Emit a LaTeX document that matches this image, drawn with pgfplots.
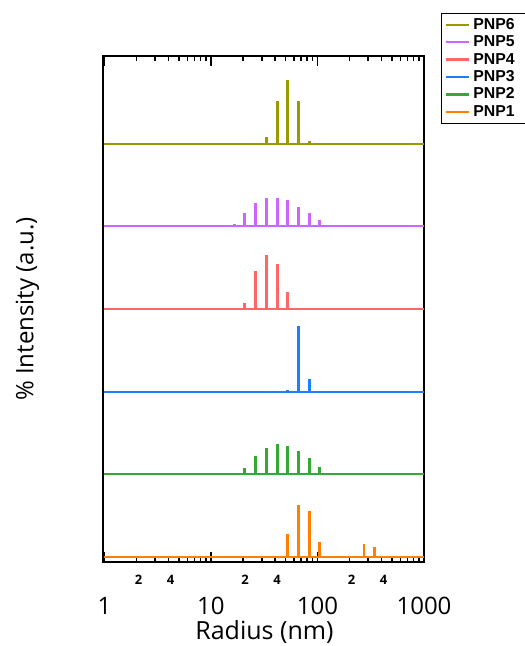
\documentclass[border=0pt]{standalone}
\usepackage{pgfplots}
\usepackage{pgfplotstable}
\pgfplotsset{compat=1.18}
\usepackage{fontspec}
\setmainfont{Open Sans}
\newfontfamily\legfont{Liberation Sans}

\definecolor{c6}{RGB}{153,153,0}
\definecolor{c5}{RGB}{204,102,255}
\definecolor{c4}{RGB}{255,102,102}
\definecolor{c3}{RGB}{26,128,255}
\definecolor{c2}{RGB}{51,170,51}
\definecolor{c1}{RGB}{255,128,0}

\pgfplotstableread{
x h
1 0
33.2 0.33
41.8 2.08
52.7 3.08
66.4 2.08
83.6 0.15
1000 0
}\pnpsix
\pgfplotstableread{
x h
1 0
16.5 0.13
20.8 0.65
26.2 1.15
33.2 1.40
41.8 1.40
52.7 1.27
66.4 0.95
83.6 0.63
105.2 0.31
134.3 0.05
1000 0
}\pnpfive
\pgfplotstableread{
x h
1 0
20.8 0.29
26.2 1.82
33.2 2.60
41.8 2.16
52.7 0.85
1000 0
}\pnpfour
\pgfplotstableread{
x h
1 0
52.7 0.10
66.4 3.19
83.6 0.61
1000 0
}\pnpthree
\pgfplotstableread{
x h
1 0
20.8 0.31
26.2 0.87
33.2 1.26
41.8 1.47
52.7 1.39
66.4 1.15
83.6 0.81
105.2 0.35
134.3 0.05
1000 0
}\pnptwo
\pgfplotstableread{
x h
1 0
52.7 1.13
66.4 2.50
83.6 2.23
105.2 0.74
273.5 0.63
344.4 0.48
1000 0
}\pnpone

\pgfplotsset{
  needle/.style={line width=1pt, forget plot,
    error bars/.cd, y dir=plus, y explicit, error mark=none,
    error bar style={line width=1.4pt, #1}},
}

\begin{document}
\begin{tikzpicture}
\path[use as bounding box] (0,0) rectangle (262pt,323pt);
\begin{axis}[
  at={(51.5pt,42pt)}, anchor=south west,
  scale only axis, width=160.5pt, height=253pt,
  xmode=log, xmin=0.97, xmax=1000, ymin=-0.24, ymax=24.25,
  axis line style={line width=1pt},
  xtick={1,10,100,1000}, xticklabels={1,10,100,1000},
  minor xtick={2,3,4,5,6,7,8,9,20,30,40,50,60,70,80,90,200,300,400,500,600,700,800,900},
  ytick=\empty,
  minor ytick={0,1,2,3,4,5,6,7,8,9,10,11,12,13,14,15,16,17,18,19,20,21,22,23,24},
  tick align=inside, xtick pos=both, ytick pos=both,
  major tick length=5pt, minor tick length=2.5pt,
  every tick/.style={black, line width=0.8pt},
  xticklabel style={anchor=center, yshift=-21.75pt, font=\fontsize{12}{14}\selectfont},
  extra x ticks={2,4,20,40,200,400},
  extra x tick labels={2,4,2,4,2,4},
  extra x tick style={major tick length=2.5pt,
     xticklabel style={font=\fontsize{6.5}{7}\selectfont\bfseries, yshift=13pt, xshift=1pt}},
  xlabel={Radius (nm)},
  xlabel style={at={(rel axis cs:0.503,-0.138)}, anchor=center, font=\fontsize{12.5}{14}\selectfont},
  ylabel={\% Intensity (a.u.)},
  ylabel style={at={(rel axis cs:-0.235,0.5)}, anchor=center, font=\fontsize{12}{14}\selectfont},
  legend style={at={(rel axis cs:1.053,1.0856)}, anchor=north west,
     draw=black, line width=0.5pt, fill=white, inner sep=1.5pt,
     font=\legfont\fontsize{7.9}{8}\selectfont\bfseries,
     row sep=0pt, cells={anchor=west},
     nodes={inner sep=1.5pt, text height=5.1pt, text depth=0.6pt}},
  legend image code/.code={\draw[#1] (0.5pt,0pt) -- (12.2pt,0pt);},
]
\addplot[c6, needle=c6] table[x=x, y expr=20, y error=h] {\pnpsix};
\addplot[c5, needle=c5] table[x=x, y expr=16, y error=h] {\pnpfive};
\addplot[c4, needle=c4] table[x=x, y expr=12, y error=h] {\pnpfour};
\addplot[c3, needle=c3] table[x=x, y expr=8, y error=h] {\pnpthree};
\addplot[c2, needle=c2] table[x=x, y expr=4, y error=h] {\pnptwo};
\addplot[c1, needle=c1] table[x=x, y expr=0, y error=h] {\pnpone};
\addlegendimage{c6, line width=1.2pt}\addlegendentry{PNP6\rule{16pt}{0pt}}
\addlegendimage{c5, line width=1.2pt}\addlegendentry{PNP5\rule{16pt}{0pt}}
\addlegendimage{c4, line width=1.2pt}\addlegendentry{PNP4\rule{16pt}{0pt}}
\addlegendimage{c3, line width=1.2pt}\addlegendentry{PNP3\rule{16pt}{0pt}}
\addlegendimage{c2, line width=1.2pt}\addlegendentry{PNP2\rule{16pt}{0pt}}
\addlegendimage{c1, line width=1.2pt}\addlegendentry{PNP1\rule{16pt}{0pt}}
\end{axis}
\end{tikzpicture}
\end{document}
